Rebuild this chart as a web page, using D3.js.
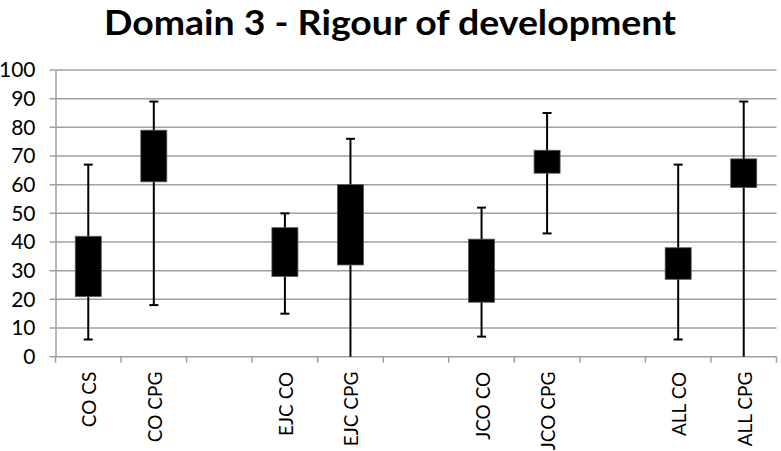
<!DOCTYPE html>
<html>
<head>
<meta charset="utf-8">
<script src="https://cdn.jsdelivr.net/npm/d3@7"></script>
<style>
	body { margin: 0; background: #fff; }
	svg { display: block; }
</style>
</head>
<body>
<svg id="chart" width="781" height="451"></svg>
<script>
const categories = ['CO CS', 'CO CPG', '', 'EJC CO', 'EJC CPG', ' ', 'JCO CO', 'JCO CPG', '  ', 'ALL CO', 'ALL CPG'];
const whiskerLow = [6, 18, null, 15, 0, null, 7, 43, null, 6, 0];
const boxLow = [21, 61, null, 28, 32, null, 19, 64, null, 27, 59];
const boxHigh = [42, 79, null, 45, 60, null, 41, 72, null, 38, 69];
const whiskerHigh = [67, 89, null, 50, 76, null, 52, 85, null, 67, 89];
const yTicks = [0, 10, 20, 30, 40, 50, 60, 70, 80, 90, 100];

const svg = d3.select('#chart');
const plotLeft = 55.5, plotRight = 776.5, plotTop = 70, plotBottom = 356.7;

const x = d3.scaleBand()
	.domain(categories)
	.range([plotLeft, plotRight]);

const y = d3.scaleLinear()
	.domain([0, 100])
	.range([plotBottom, plotTop]);

const data = categories.map((c, i) => ({
	cat: c, wl: whiskerLow[i], bl: boxLow[i], bh: boxHigh[i], wh: whiskerHigh[i]
})).filter(d => d.wl !== null);

// title
svg.append('text')
	.attr('x', 390)
	.attr('y', 35)
	.attr('text-anchor', 'middle')
	.attr('font-family', 'Lato, sans-serif')
	.attr('font-weight', 'bold')
	.attr('font-size', 35)
	.attr('textLength', 572)
	.attr('lengthAdjust', 'spacingAndGlyphs')
	.attr('fill', '#000')
	.text('Domain 3 - Rigour of development');

// gridlines
svg.append('g')
	.selectAll('line')
	.data(yTicks)
	.enter()
	.append('line')
	.attr('x1', plotLeft - 6)
	.attr('x2', plotRight)
	.attr('y1', d => y(d))
	.attr('y2', d => y(d))
	.attr('stroke', '#a0a0a0')
	.attr('stroke-width', 1.5);

// y axis
const yAxis = svg.append('g')
	.attr('transform', `translate(${plotLeft},0)`)
	.call(d3.axisLeft(y).tickValues(yTicks).tickSize(0).tickPadding(20));
yAxis.select('.domain').attr('stroke', '#a0a0a0').attr('stroke-width', 1.5);
yAxis.selectAll('text')
	.attr('font-family', 'Lato, sans-serif')
	.attr('font-size', 21)
	.attr('fill', '#000');

// x axis ticks at category boundaries
const bounds = categories.map(c => x(c)).concat([plotRight]);
svg.append('g')
	.selectAll('line')
	.data(bounds)
	.enter()
	.append('line')
	.attr('x1', d => d)
	.attr('x2', d => d)
	.attr('y1', plotBottom)
	.attr('y2', plotBottom + 6)
	.attr('stroke', '#a0a0a0')
	.attr('stroke-width', 1.5);

// x labels
svg.append('g')
	.selectAll('text')
	.data(categories.filter(c => c.trim() !== ''))
	.enter()
	.append('text')
	.attr('transform', d => `translate(${x(d) + x.bandwidth() / 2 + 8},${plotBottom + 15}) rotate(-90)`)
	.attr('text-anchor', 'end')
	.attr('font-family', 'Lato, sans-serif')
	.attr('font-size', 19)
	.attr('fill', '#000')
	.text(d => d);

// boxes
const boxW = 26, capW = 9;
const items = svg.append('g')
	.selectAll('g')
	.data(data)
	.enter()
	.append('g')
	.attr('transform', d => `translate(${x(d.cat) + x.bandwidth() / 2},0)`);

items.append('line')
	.attr('x1', 0).attr('x2', 0)
	.attr('y1', d => y(d.wl))
	.attr('y2', d => y(d.wh))
	.attr('stroke', '#000')
	.attr('stroke-width', 2);

items.append('line')
	.attr('x1', -capW / 2).attr('x2', capW / 2)
	.attr('y1', d => y(d.wh)).attr('y2', d => y(d.wh))
	.attr('stroke', '#000')
	.attr('stroke-width', 2);

items.filter(d => d.wl > 0).append('line')
	.attr('x1', -capW / 2).attr('x2', capW / 2)
	.attr('y1', d => y(d.wl)).attr('y2', d => y(d.wl))
	.attr('stroke', '#000')
	.attr('stroke-width', 2);

items.append('rect')
	.attr('x', -boxW / 2)
	.attr('width', boxW)
	.attr('y', d => y(d.bh))
	.attr('height', d => y(d.bl) - y(d.bh))
	.attr('fill', '#000')
	.attr('stroke', '#555')
	.attr('stroke-width', 0.8);
</script>
</body>
</html>
